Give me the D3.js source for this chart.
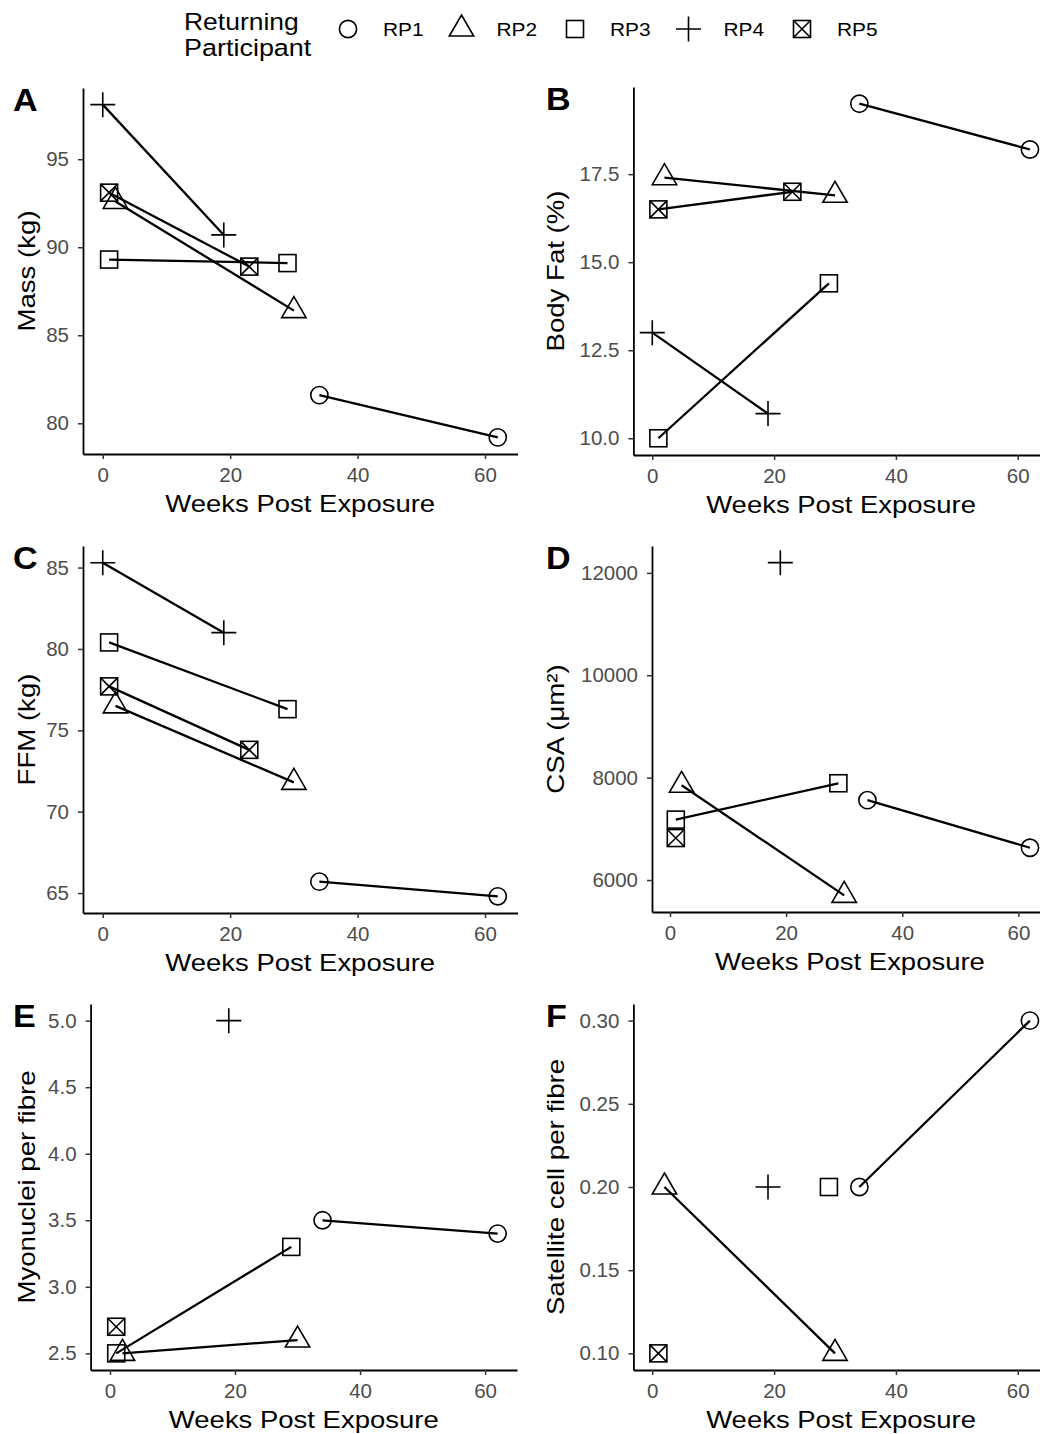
<!DOCTYPE html>
<html>
<head>
<meta charset="utf-8">
<script src="https://cdn.jsdelivr.net/npm/d3@7"></script>
<style>
  body { margin: 0; background: #fff; }
  text { font-family: "Liberation Sans", Arial, sans-serif; }
</style>
</head>
<body>
<script>
let width = 1040
let height = 1434

// participants and the weeks of their two visits
const participants = ["RP1", "RP2", "RP3", "RP4", "RP5"]
const visitWeeks = [[34, 62], [2, 30], [1, 29], [0, 19], [1, 23]]

// one [visit1, visit2] pair per participant, null = not measured
const mass      = [[81.6, 79.2], [92.6, 86.4], [89.3, 89.1], [98.1, 90.7], [93.1, 88.9]]
const bodyFat   = [[19.5, 18.2], [17.4, 16.9], [10.0, 14.4], [13.0, 10.7], [16.5, 17.0]]
const ffm       = [[65.7, 64.8], [76.5, 71.8], [80.4, 76.3], [85.3, 81.0], [77.7, 73.8]]
const csa       = [[7560, 6630], [7850, 5700], [7180, 7890], [null, 12200], [6820, null]]
const myonuclei = [[3.5, 3.4], [2.5, 2.6], [2.5, 3.3], [null, 5.0], [2.7, null]]
const satellite = [[0.2, 0.3], [0.2, 0.1], [null, 0.2], [null, 0.2], [0.1, null]]

// tick values
const xTicks = [0, 20, 40, 60]
const massTicks = [80, 85, 90, 95]
const fatTicks = [10, 12.5, 15, 17.5]
const ffmTicks = [65, 70, 75, 80, 85]
const csaTicks = [6000, 8000, 10000, 12000]
const myoTicks = [2.5, 3.0, 3.5, 4.0, 4.5, 5.0]
const satTicks = [0.10, 0.15, 0.20, 0.25, 0.30]

const shapes = ["circle", "triangle", "square", "plus", "boxx"]

let svg = d3.select("body")
  .append("svg")
  .attr("width", width)
  .attr("height", height)
  .style("background", "#fff")

// stretch text along its own direction (the reference fonts run wide)
function stretch(sel, k) {
  sel.each(function() {
    let w = this.getComputedTextLength()
    this.setAttribute("textLength", w * k)
    this.setAttribute("lengthAdjust", "spacingAndGlyphs")
  })
}

// R style open symbols
function drawShape(g, shape, cx, cy) {
  let s = g.append("g").attr("transform", `translate(${cx},${cy})`)
    .attr("fill", "none").attr("stroke", "#000").attr("stroke-width", 1.6)
  if (shape == "circle") {
    s.append("circle").attr("r", 8.6)
  } else if (shape == "triangle") {
    s.append("path").attr("d", "M0,-14L12.2,7L-12.2,7Z")
  } else if (shape == "square") {
    s.append("rect").attr("x", -8.5).attr("y", -8.5).attr("width", 17).attr("height", 17)
  } else if (shape == "plus") {
    s.append("path").attr("d", "M-12.5,0H12.5M0,-12.5V12.5")
  } else {
    s.append("rect").attr("x", -8.5).attr("y", -8.5).attr("width", 17).attr("height", 17)
    s.append("path").attr("d", "M-8.5,-8.5L8.5,8.5M8.5,-8.5L-8.5,8.5")
  }
}

let panels = [
  { letter: "A", values: mass, title: "Mass (kg)", ticks: massTicks, fmt: d3.format("d"), box: [83, 517.5, 88, 454], col: 0 },
  { letter: "B", values: bodyFat, title: "Body Fat (%)", ticks: fatTicks, fmt: d3.format(".1f"), box: [633.4, 1048.8, 87, 455], col: 1 },
  { letter: "C", values: ffm, title: "FFM (kg)", ticks: ffmTicks, fmt: d3.format("d"), box: [83, 517.5, 546, 913], col: 0 },
  { letter: "D", values: csa, title: "CSA (\u03bcm\u00b2)", ticks: csaTicks, fmt: d3.format("d"), box: [652, 1048, 546, 912], col: 1 },
  { letter: "E", values: myonuclei, title: "Myonuclei per fibre", ticks: myoTicks, fmt: d3.format(".1f"), box: [90.6, 517, 1004, 1370], col: 0 },
  { letter: "F", values: satellite, title: "Satellite cell per fibre", ticks: satTicks, fmt: d3.format(".2f"), box: [633.4, 1048.8, 1004, 1370], col: 1 }
]

panels.forEach(function(p) {
  let [x0, x1, y0, y1] = p.box
  let g = svg.append("g")

  // ggplot style 5% expansion
  let x = d3.scaleLinear().domain([0 - 3.1, 62 + 3.1]).range([x0, x1])
  let vals = p.values.flat().filter(v => v != null)
  let ext = d3.extent(vals)
  let pad = (ext[1] - ext[0]) * 0.05
  let y = d3.scaleLinear().domain([ext[0] - pad, ext[1] + pad]).range([y1, y0])

  // axes
  let xAxis = g.append("g").attr("transform", `translate(0,${y1})`)
    .call(d3.axisBottom(x).tickValues(xTicks).tickSize(5).tickSizeOuter(0).tickPadding(8))
  let yAxis = g.append("g").attr("transform", `translate(${x0},0)`)
    .call(d3.axisLeft(y).tickValues(p.ticks).tickFormat(p.fmt).tickSize(5).tickSizeOuter(0).tickPadding(9))
  ;[xAxis, yAxis].forEach(a => {
    a.select(".domain").attr("stroke", "#000").attr("stroke-width", 1.8)
    a.selectAll(".tick line").attr("stroke", "#333").attr("stroke-width", 1.5)
    a.selectAll(".tick text").attr("fill", "#4d4d4d").style("font-size", "20.5px")
      .style("font-family", '"Liberation Sans", Arial, sans-serif')
  })

  // one line per participant
  let line = d3.line()
    .defined(d => d.v != null)
    .x(d => x(d.w))
    .y(d => y(d.v))

  p.values.forEach(function(pair, i) {
    let pts = pair.map((v, j) => ({ w: visitWeeks[i][j], v: v }))
    g.append("path")
      .attr("d", line(pts))
      .attr("fill", "none")
      .attr("stroke", "#000")
      .attr("stroke-width", 2.3)
  })
  p.values.forEach(function(pair, i) {
    pair.forEach(function(v, j) {
      if (v == null) return
      drawShape(g, shapes[i], x(visitWeeks[i][j]), y(v))
    })
  })

  // titles
  let xt = g.append("text")
    .attr("x", (x0 + x1) / 2).attr("y", y1 + 58)
    .attr("text-anchor", "middle")
    .style("font-size", "24px")
    .text("Weeks Post Exposure")
  stretch(xt, 1.145)

  let ytx = p.col == 0 ? 35 : 564
  let yt = g.append("text")
    .attr("transform", `translate(${ytx},${(y0 + y1) / 2}) rotate(-90)`)
    .attr("text-anchor", "middle")
    .style("font-size", "24px")
    .text(p.title)
  stretch(yt, 1.15)

  let lt = g.append("text")
    .attr("x", p.col == 0 ? 13 : 546).attr("y", y0 + 23)
    .style("font-size", "31px").style("font-weight", "bold")
    .text(p.letter)
  stretch(lt, 1.1)
})

// legend
let legend = svg.append("g")
let t1 = legend.append("text").attr("x", 184).attr("y", 30).style("font-size", "24.5px").text("Returning")
let t2 = legend.append("text").attr("x", 184).attr("y", 56).style("font-size", "24.5px").text("Participant")
stretch(t1, 1.08)
stretch(t2, 1.1)

participants.forEach(function(name, i) {
  let kx = 348 + i * 113.5
  drawShape(legend, shapes[i], kx, 29)
  let lt = legend.append("text")
    .attr("x", kx + 35).attr("y", 36)
    .style("font-size", "19px")
    .text(name)
  stretch(lt, 1.1)
})
</script>
</body>
</html>
